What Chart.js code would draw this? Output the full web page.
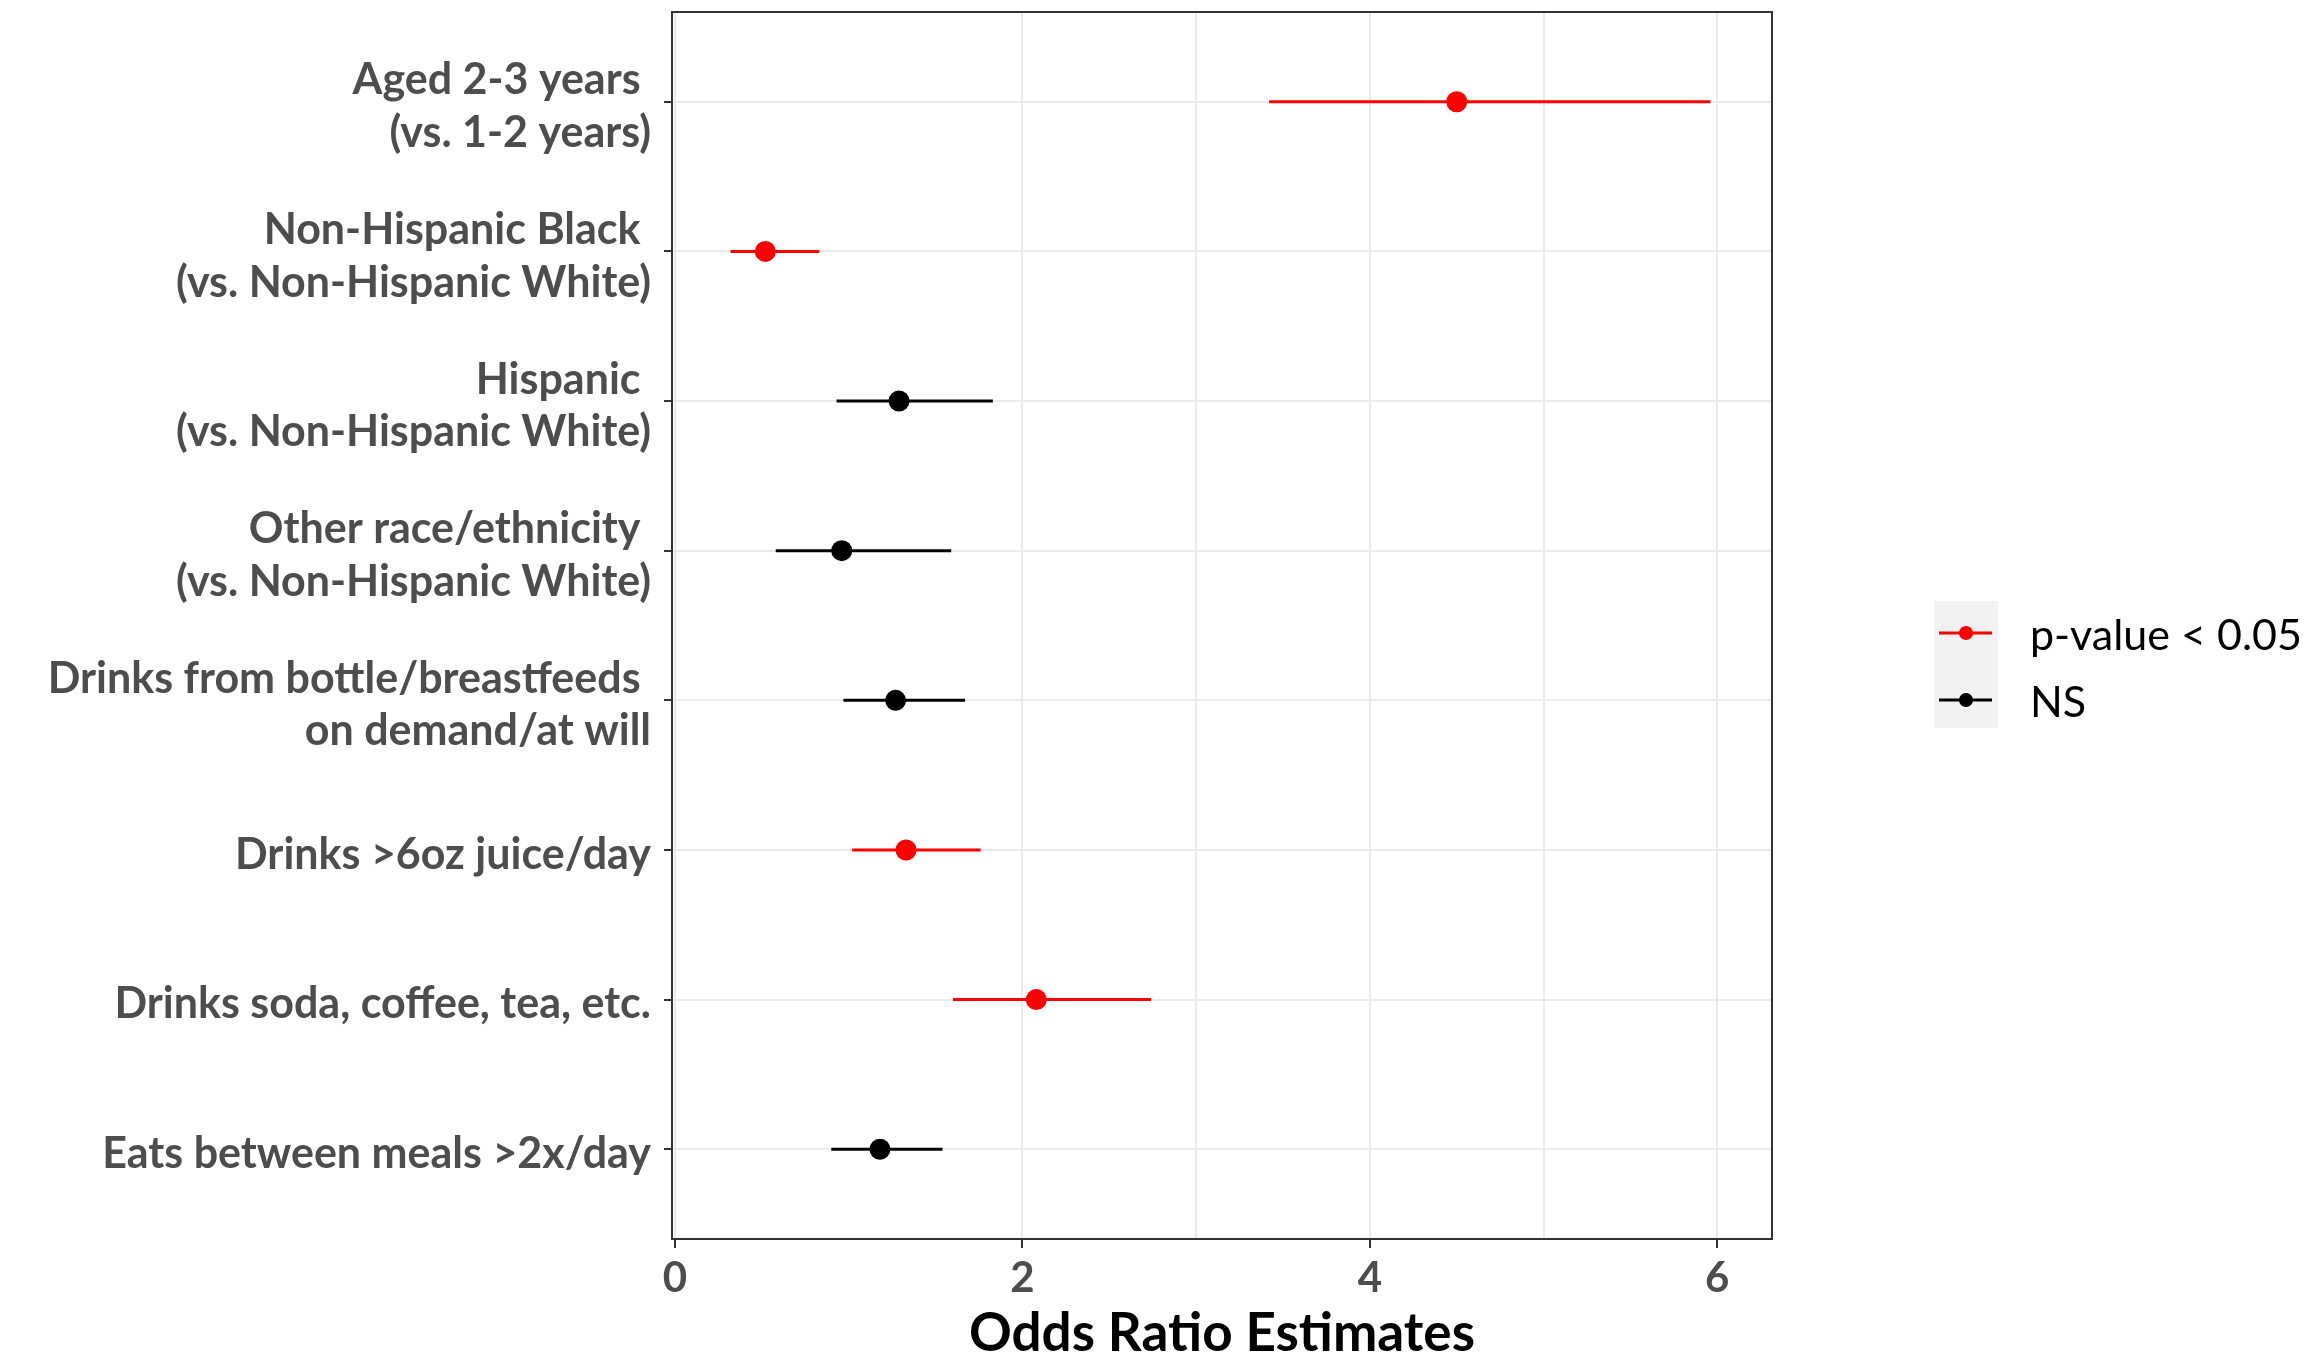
<!DOCTYPE html>
<html>
<head>
<meta charset="utf-8">
<script src="https://cdn.jsdelivr.net/npm/chart.js@4.4.1/dist/chart.umd.min.js"></script>
<style>
  html, body { margin: 0; padding: 0; background: #ffffff; }
  #wrap { width: 2315px; height: 1371px; position: relative; }
</style>
</head>
<body>
<div id="wrap"><canvas id="c"></canvas></div>
<script>
// ---- data ----
const categories = [
  ["Aged 2-3 years ", "(vs. 1-2 years)"],
  ["Non-Hispanic Black ", "(vs. Non-Hispanic White)"],
  ["Hispanic ", "(vs. Non-Hispanic White)"],
  ["Other race/ethnicity ", "(vs. Non-Hispanic White)"],
  ["Drinks from bottle/breastfeeds ", "on demand/at will"],
  "Drinks >6oz juice/day",
  "Drinks soda, coffee, tea, etc.",
  "Eats between meals >2x/day"
];
const estimates = [4.50, 0.52, 1.29, 0.96, 1.27, 1.33, 2.08, 1.18];
const lowerCI   = [3.42, 0.32, 0.93, 0.58, 0.97, 1.02, 1.60, 0.90];
const upperCI   = [5.96, 0.83, 1.83, 1.59, 1.67, 1.76, 2.74, 1.54];
const significant = [true, true, false, false, false, true, true, false];
const xTicks = [0, 1, 2, 3, 4, 5, 6];
const legendLabels = ["p-value < 0.05", "NS"];
const sigColor = "#ff0000";
const nsColor = "#000000";

// ---- datasets ----
const datasets = [];
categories.forEach((c, i) => {
  const col = significant[i] ? sigColor : nsColor;
  datasets.push({
    type: 'scatter',
    showLine: true,
    data: [{x: lowerCI[i], y: i}, {x: upperCI[i], y: i}],
    borderColor: col,
    borderWidth: 3,
    pointRadius: 0,
    order: 2
  });
});
datasets.push({
  type: 'scatter',
  data: estimates.map((v, i) => significant[i] ? {x: v, y: i} : null).filter(d => d),
  backgroundColor: sigColor, borderColor: sigColor, pointRadius: 10.5, borderWidth: 0, order: 0
});
datasets.push({
  type: 'scatter',
  data: estimates.map((v, i) => !significant[i] ? {x: v, y: i} : null).filter(d => d),
  backgroundColor: nsColor, borderColor: nsColor, pointRadius: 10.5, borderWidth: 0, order: 0
});

const FONT = "Lato, 'Open Sans', sans-serif";

const panelBorder = {
  id: 'panelBorder',
  afterDatasetsDraw(chart) {
    const {ctx, chartArea: a} = chart;
    ctx.save();
    ctx.strokeStyle = '#333333';
    ctx.lineWidth = 2;
    ctx.strokeRect(a.left, a.top, a.right - a.left, a.bottom - a.top);
    ctx.restore();
  }
};

const customLegend = {
  id: 'customLegend',
  afterDraw(chart) {
    const ctx = chart.ctx;
    const boxX = 1934, boxY = 601, boxW = 64, boxH = 127;
    ctx.save();
    ctx.fillStyle = '#f2f2f2';
    ctx.fillRect(boxX, boxY, boxW, boxH);
    const rows = [{y: 633, c: sigColor}, {y: 700, c: nsColor}];
    rows.forEach((r, k) => {
      ctx.strokeStyle = r.c;
      ctx.lineWidth = 3;
      ctx.beginPath();
      ctx.moveTo(1939, r.y); ctx.lineTo(1992, r.y);
      ctx.stroke();
      ctx.fillStyle = r.c;
      ctx.beginPath();
      ctx.arc(1966, r.y, 7, 0, Math.PI * 2);
      ctx.fill();
      ctx.fillStyle = '#000000';
      ctx.font = "43px " + FONT;
      ctx.textBaseline = 'middle';
      ctx.textAlign = 'left';
      ctx.fillText(legendLabels[k], 2030, r.y + 3);
    });
    ctx.restore();
  }
};

new Chart(document.getElementById('c'), {
  type: 'scatter',
  data: { datasets },
  options: {
    responsive: true,
    maintainAspectRatio: false,
    animation: false,
    layout: { padding: { top: 12, right: 543, bottom: 0, left: 0 } },
    plugins: { legend: { display: false }, tooltip: { enabled: false } },
    scales: {
      x: {
        type: 'linear',
        min: -0.017,
        max: 6.315,
        afterBuildTicks(scale) { scale.ticks = xTicks.map(v => ({value: v})); },
        afterFit(scale) { scale.height = 132; scale.paddingLeft = 0; scale.paddingRight = 0; },
        border: { display: false },
        grid: {
          color: ctx => (ctx.tick && ctx.tick.value === 1) ? '#ffffff' : '#ebebeb',
          lineWidth: 2,
          tickColor: ctx => (ctx.tick && ctx.tick.value % 2 === 0) ? '#333333' : 'rgba(0,0,0,0)',
          tickLength: 9,
          tickWidth: 2
        },
        ticks: {
          autoSkip: false,
          maxRotation: 0,
          padding: 5,
          color: '#4d4d4d',
          font: { family: FONT, size: 42, weight: 'bold', lineHeight: 1.2 },
          callback: v => (v % 2 === 0 ? String(v) : '')
        },
        title: {
          display: true,
          text: 'Odds Ratio Estimates',
          color: '#000000',
          font: { family: FONT, size: 53, weight: 'bold' },
          padding: { top: 0, bottom: 5 }
        }
      },
      y: {
        type: 'linear',
        reverse: true,
        min: -0.6,
        max: 7.6,
        afterBuildTicks(scale) { scale.ticks = categories.map((_, i) => ({value: i})); },
        afterFit(scale) { scale.width = 672; scale.paddingTop = 0; scale.paddingBottom = 0; },
        border: { display: false },
        grid: {
          color: '#ebebeb',
          lineWidth: 2,
          tickColor: '#333333',
          tickLength: 8,
          tickWidth: 2
        },
        ticks: {
          autoSkip: false,
          padding: 13,
          labelOffset: 5,
          color: '#4d4d4d',
          font: { family: FONT, size: 43, weight: 'bold', lineHeight: 1.22 },
          callback: v => categories[v]
        }
      }
    }
  },
  plugins: [panelBorder, customLegend]
});
</script>
</body>
</html>
